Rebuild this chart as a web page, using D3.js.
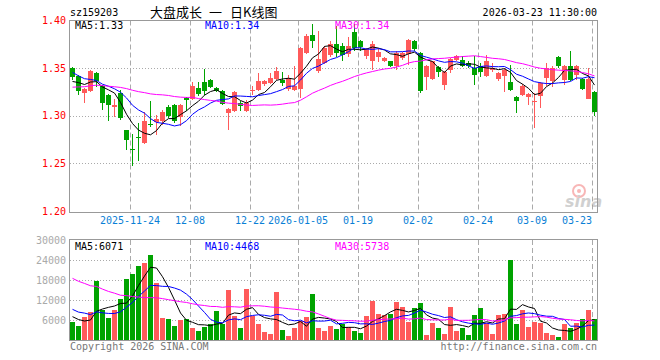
<!DOCTYPE html>
<html lang="zh">
<head>
<meta charset="UTF-8">
<title>大盘成长 日K线图</title>
<script src="https://cdn.jsdelivr.net/npm/d3@7"></script>
<style>
  body { margin: 0; background: #fff; }
  svg text { font-family: "DejaVu Sans Mono", monospace; font-size: 10px; }
</style>
</head>
<body>
<div id="chart"></div>
<script>
// trading sessions shown on the chart
const dates = [
  "2025-11-10","2025-11-11","2025-11-12","2025-11-13","2025-11-14",
  "2025-11-17","2025-11-18","2025-11-19","2025-11-20","2025-11-21",
  "2025-11-24","2025-11-25","2025-11-26","2025-11-27","2025-11-28",
  "2025-12-01","2025-12-02","2025-12-03","2025-12-04","2025-12-05",
  "2025-12-08","2025-12-09","2025-12-10","2025-12-11","2025-12-12",
  "2025-12-15","2025-12-16","2025-12-17","2025-12-18","2025-12-19",
  "2025-12-22","2025-12-23","2025-12-24","2025-12-25","2025-12-26",
  "2025-12-29","2025-12-30","2025-12-31",
  "2026-01-05","2026-01-06","2026-01-07","2026-01-08","2026-01-09",
  "2026-01-12","2026-01-13","2026-01-14","2026-01-15","2026-01-16",
  "2026-01-19","2026-01-20","2026-01-21","2026-01-22","2026-01-23",
  "2026-01-26","2026-01-27","2026-01-28","2026-01-29","2026-01-30",
  "2026-02-02","2026-02-03","2026-02-04","2026-02-05","2026-02-06",
  "2026-02-09","2026-02-10","2026-02-11","2026-02-12","2026-02-13",
  "2026-02-24","2026-02-25","2026-02-26","2026-02-27",
  "2026-03-02","2026-03-03","2026-03-04","2026-03-05","2026-03-06",
  "2026-03-09","2026-03-10","2026-03-11","2026-03-12","2026-03-13",
  "2026-03-16","2026-03-17","2026-03-18","2026-03-19","2026-03-20",
  "2026-03-23"
]
const opens = [
  1.350,1.342,1.324,1.326,1.345, 1.331,1.322,1.309,1.324,1.285,
  1.265,1.278,1.271,1.291,1.293, 1.294,1.309,1.311,1.299,1.319,
  1.318,1.329,1.335,1.338,1.329, 1.326,1.303,1.305,1.313,1.305,
  1.326,1.327,1.333,1.334,1.339, 1.338,1.328,1.327,
  1.328,1.366,1.385,1.347,1.355, 1.364,1.375,1.373,1.365,1.388,
  1.378,1.363,1.358,1.362,1.357, 1.357,1.352,1.361,1.365,1.379,
  1.366,1.341,1.339,1.351,1.332, 1.348,1.359,1.359,1.355,1.350,
  1.352,1.342,1.348,1.339, 1.342,1.335,1.320,1.322,1.320,
  1.314,1.321,1.340,1.337,1.362, 1.338,1.352,1.343,1.339,1.318,
  1.325
]
const highs = [
  1.351,1.343,1.329,1.348,1.346, 1.332,1.323,1.318,1.327,1.285,
  1.281,1.292,1.304,1.315,1.301, 1.306,1.311,1.312,1.312,1.320,
  1.335,1.335,1.349,1.339,1.330, 1.327,1.308,1.326,1.315,1.317,
  1.331,1.345,1.338,1.345,1.351, 1.346,1.343,1.352,
  1.372,1.386,1.396,1.389,1.373, 1.378,1.394,1.376,1.383,1.396,
  1.380,1.371,1.378,1.371,1.362, 1.358,1.368,1.367,1.381,1.380,
  1.367,1.353,1.358,1.352,1.347, 1.361,1.364,1.363,1.357,1.363,
  1.355,1.364,1.355,1.346, 1.350,1.353,1.321,1.333,1.324,
  1.324,1.335,1.355,1.352,1.363, 1.353,1.368,1.353,1.340,1.350,
  1.326
]
const lows = [
  1.338,1.322,1.313,1.325,1.330, 1.306,1.295,1.299,1.296,1.264,
  1.247,1.253,1.270,1.288,1.280, 1.290,1.298,1.292,1.289,1.305,
  1.317,1.321,1.322,1.329,1.325, 1.311,1.285,1.304,1.305,1.304,
  1.322,1.326,1.331,1.333,1.338, 1.331,1.326,1.326,
  1.319,1.365,1.371,1.345,1.354, 1.362,1.362,1.357,1.362,1.368,
  1.368,1.360,1.348,1.356,1.356, 1.351,1.348,1.359,1.353,1.368,
  1.324,1.327,1.338,1.341,1.327, 1.345,1.358,1.351,1.350,1.332,
  1.341,1.341,1.346,1.336, 1.325,1.326,1.303,1.321,1.311,
  1.287,1.308,1.331,1.330,1.350, 1.332,1.336,1.338,1.327,1.318,
  1.300
]
const closes = [
  1.341,1.326,1.328,1.347,1.337, 1.313,1.311,1.311,1.298,1.275,
  1.264,1.277,1.294,1.290,1.297, 1.304,1.300,1.294,1.311,1.317,
  1.331,1.323,1.326,1.330,1.326, 1.312,1.307,1.325,1.310,1.313,
  1.327,1.336,1.336,1.340,1.347, 1.334,1.340,1.331,
  1.371,1.384,1.378,1.360,1.371, 1.375,1.366,1.364,1.373,1.371,
  1.372,1.370,1.375,1.367,1.361, 1.352,1.366,1.366,1.380,1.370,
  1.326,1.352,1.357,1.346,1.346, 1.360,1.363,1.352,1.352,1.343,
  1.346,1.358,1.350,1.345, 1.348,1.327,1.315,1.331,1.323,
  1.315,1.334,1.350,1.350,1.352, 1.352,1.338,1.352,1.328,1.339,
  1.304
]
const volumes = [
  5500,4200,7000,8500,17800, 9000,6700,9000,12300,18300,
  19800,22300,23200,25500,17200, 6700,6300,4300,6000,6300,
  3700,2700,4000,4800,8700, 4800,15000,7300,3700,15300,
  7300,4800,2500,1800,14300, 3000,1200,3700,
  5700,7000,13800,3700,2700, 4300,3300,4700,4000,2700,
  2200,7300,11700,7800,7500, 7800,11300,10000,5500,9700,
  11000,1500,5200,3700,1800, 9800,2700,3700,1500,7500,
  9500,5200,1800,7500, 7800,24000,4800,8960,4000,
  5500,5000,2100,1400,1000, 4825,3700,5200,6300,9000,
  6155
]
// earlier sessions (off the left edge), inferred from where the MA lines start
const preCloses = [
  1.318,1.322,1.315,1.320,1.326,1.331,1.328,1.319,1.312,1.316,
  1.321,1.325,1.329,1.318,1.314,1.320,1.327,1.330,1.326,1.328,
  1.362,1.358,1.355,1.348,1.352, 1.332,1.338,1.334,1.335
]
const preVolumes = [
  31000,26000,29500,24000,33000,27500,25000,30500,22000,28000,26500,29000,25600,
  18000,14500,16000,13000,15500,12900,15500,
  12500,10000,13000,9500,12000, 8500,9200,7000,4800
]

const tickDates = ["2025-11-24","2025-12-08","2025-12-22","2026-01-05","2026-01-19","2026-02-02","2026-02-24","2026-03-09","2026-03-23"]
const tickLabels = ["2025-11-24","12-08","12-22","2026-01-05","01-19","02-02","02-24","03-09","03-23"]
const priceTicks = [1.20, 1.25, 1.30, 1.35, 1.40]
const volTicks = [6000, 12000, 18000, 24000, 30000]
const maWindows = [5, 10, 30]
const maColors = ["#000000", "#0000ff", "#ff00ff"]
const maLabelX = [75, 205, 335]

const W = 660, H = 360
const left = 70, right = 597
const pTop = 20.5, pBottom = 211
const vTop = 240, vBottom = 340
const upColor = "#ff5a5a", downColor = "#00a300"

const rows = dates.map((d, i) => ({date: d, o: opens[i], h: highs[i], l: lows[i], c: closes[i], v: volumes[i]}))

function movingAvg(pre, vals, n) {
	const all = pre.concat(vals)
	return vals.map((v, i) => {
		const end = pre.length + i
		return d3.mean(all.slice(end - n + 1, end + 1))
	})
}

const x = d3.scaleBand().domain(dates).range([left, right]).paddingInner(1/6).paddingOuter(0)
const yP = d3.scaleLinear().domain([1.20, 1.40]).range([pBottom, pTop])
const yV = d3.scaleLinear().domain([0, 30000]).range([vBottom, vTop])
const bw = x.bandwidth()

const svg = d3.select("#chart").append("svg").attr("width", W).attr("height", H)

// horizontal dotted grid
svg.append("g").selectAll("line").data(priceTicks.slice(1, -1)).join("line")
	.attr("x1", left).attr("x2", right)
	.attr("y1", d => Math.round(yP(d)) + 0.5).attr("y2", d => Math.round(yP(d)) + 0.5)
	.attr("stroke", "#aaa").attr("stroke-dasharray", "1,2")
svg.append("g").selectAll("line").data(volTicks.slice(0, -1)).join("line")
	.attr("x1", left).attr("x2", right)
	.attr("y1", d => Math.round(yV(d)) + 0.5).attr("y2", d => Math.round(yV(d)) + 0.5)
	.attr("stroke", "#aaa").attr("stroke-dasharray", "1,2")

// vertical dashed grid, both panels
const vg = svg.append("g")
for (const [a, b] of [[pTop, pBottom], [vTop, vBottom]]) {
	vg.append("g").selectAll("line").data(tickDates).join("line")
		.attr("x1", d => x(d) + 0.5).attr("x2", d => x(d) + 0.5)
		.attr("y1", a).attr("y2", b)
		.attr("stroke", "#aaa").attr("stroke-dasharray", "5,3")
}

// sina watermark
const wm = svg.append("g").attr("opacity", 0.45)
wm.append("circle").attr("cx", 579).attr("cy", 191).attr("r", 6).attr("fill", "none").attr("stroke", "#f06060").attr("stroke-width", 2)
wm.append("circle").attr("cx", 579).attr("cy", 191).attr("r", 2).attr("fill", "#f06060")
wm.append("text").attr("x", 565).attr("y", 207).text("sina")
	.style("font-family", "DejaVu Sans").style("font-size", "16px").style("font-weight", "bold").style("font-style", "italic")
	.attr("fill", "#999")

// candles
const cg = svg.append("g").attr("shape-rendering", "crispEdges")
cg.selectAll("line").data(rows).join("line")
	.attr("x1", d => x(d.date) + bw / 2).attr("x2", d => x(d.date) + bw / 2)
	.attr("y1", d => yP(d.h)).attr("y2", d => yP(d.l))
	.attr("stroke", d => d.c >= d.o ? upColor : downColor)
cg.selectAll("rect").data(rows).join("rect")
	.attr("x", d => x(d.date)).attr("width", bw)
	.attr("y", d => yP(Math.max(d.o, d.c)))
	.attr("height", d => Math.max(1, yP(Math.min(d.o, d.c)) - yP(Math.max(d.o, d.c))))
	.attr("fill", d => d.c >= d.o ? upColor : downColor)

// volume bars
svg.append("g").attr("shape-rendering", "crispEdges")
	.selectAll("rect").data(rows).join("rect")
	.attr("x", d => x(d.date)).attr("width", bw)
	.attr("y", d => yV(d.v)).attr("height", d => vBottom - yV(d.v))
	.attr("fill", d => d.c >= d.o ? upColor : downColor)

// moving averages
const priceMA = maWindows.map(n => movingAvg(preCloses, closes, n))
const volMA = maWindows.map(n => movingAvg(preVolumes, volumes, n))
const lineP = d3.line().x((d, i) => x(dates[i]) + bw / 2).y(d => yP(d))
const lineV = d3.line().x((d, i) => x(dates[i]) + bw / 2).y(d => yV(d))
maWindows.forEach((n, k) => {
	svg.append("path").attr("d", lineP(priceMA[k])).attr("fill", "none").attr("stroke", maColors[k]).attr("stroke-width", 1)
	svg.append("path").attr("d", lineV(volMA[k])).attr("fill", "none").attr("stroke", maColors[k]).attr("stroke-width", 1)
})

// panel borders
const bg = svg.append("g").attr("shape-rendering", "crispEdges").attr("fill", "none").attr("stroke", "#999")
bg.append("rect").attr("x", left - 0.5).attr("y", Math.round(pTop) - 0.5).attr("width", right - left + 1).attr("height", Math.round(pBottom - pTop) + 1)
bg.append("rect").attr("x", left - 0.5).attr("y", vTop - 0.5).attr("width", right - left + 1).attr("height", vBottom - vTop + 1)

// axis labels
svg.append("g").selectAll("text").data(priceTicks).join("text")
	.attr("x", 66).attr("y", d => yP(d) + 3.5).attr("text-anchor", "end")
	.attr("fill", "#ff0000").text(d => d.toFixed(2))
svg.append("g").selectAll("text").data(volTicks).join("text")
	.attr("x", 66).attr("y", d => yV(d) + 3.5).attr("text-anchor", "end")
	.attr("fill", "#aaa").text(d => d)
svg.append("g").selectAll("text").data(tickDates).join("text")
	.attr("x", d => x(d)).attr("y", 224)
	.attr("text-anchor", (d, i) => i == tickDates.length - 1 ? "end" : "middle")
	.attr("fill", "#0a7fd6").text((d, i) => tickLabels[i])

// MA legends
const f2 = d3.format(".2f"), f0 = d3.format("d")
maWindows.forEach((n, k) => {
	svg.append("text").attr("x", maLabelX[k]).attr("y", 29).attr("fill", maColors[k])
		.text("MA" + n + ":" + f2(priceMA[k][priceMA[k].length - 1]))
	svg.append("text").attr("x", maLabelX[k]).attr("y", 250).attr("fill", maColors[k])
		.text("MA" + n + ":" + f0(Math.round(volMA[k][volMA[k].length - 1])))
})

// header and footer
svg.append("text").attr("x", 70).attr("y", 16).attr("fill", "#000").text("sz159203")
const title = svg.append("text").attr("y", 17).attr("fill", "#000")
	.style("font-family", "'Noto Sans CJK SC', sans-serif").style("font-size", "13px")
title.append("tspan").attr("x", 150).text("大盘成长")
title.append("tspan").attr("x", 209).text("一")
title.append("tspan").attr("x", 230).text("日K线图")
svg.append("text").attr("x", 597).attr("y", 16).attr("text-anchor", "end").attr("fill", "#000").text("2026-03-23 11:30:00")
svg.append("text").attr("x", 70).attr("y", 350).attr("fill", "#777").text("Copyright 2026 SINA.COM")
svg.append("text").attr("x", 597).attr("y", 350).attr("text-anchor", "end").attr("fill", "#777").text("http://finance.sina.com.cn")
</script>
</body>
</html>
